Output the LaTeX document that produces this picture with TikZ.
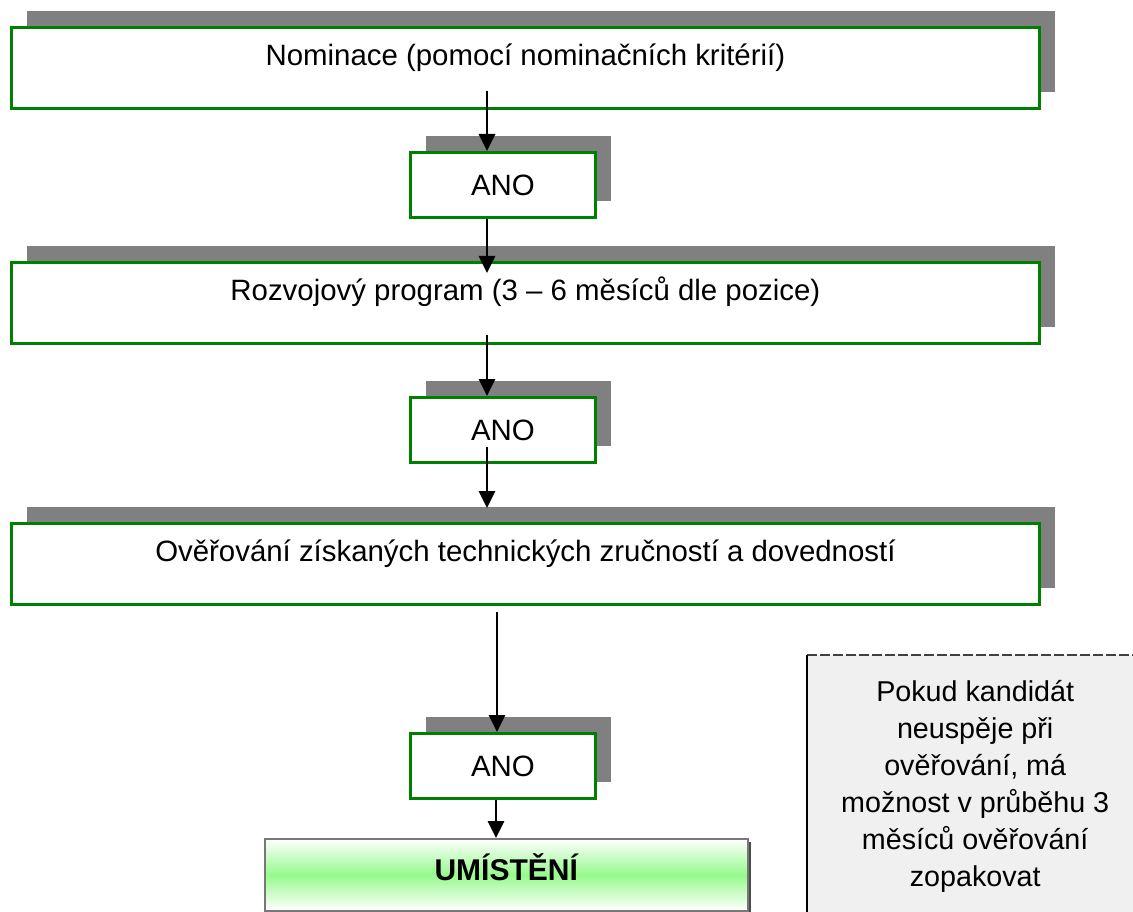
\documentclass[tikz,border=0pt]{standalone}
\usepackage{fontspec}
\setmainfont{Liberation Sans}
\usetikzlibrary{arrows.meta,shadows}
\definecolor{boxgreen}{RGB}{0,128,0}
\definecolor{shadegray}{RGB}{128,128,128}
\definecolor{notefill}{RGB}{240,240,240}
\definecolor{umgreen}{RGB}{150,250,140}
\definecolor{umborder}{RGB}{120,120,120}
\tikzset{
  stepbox/.style={draw=boxgreen, line width=2.8pt, fill=white, anchor=north west, inner sep=0pt,
    font=\fontsize{29.4}{35}\selectfont,
    drop shadow={shadow xshift=16pt, shadow yshift=16pt, fill=shadegray, opacity=1}},
  widebox/.style={stepbox, minimum width=1028pt, minimum height=81pt, text height=21pt, text depth=25pt},
  anobox/.style={stepbox, minimum width=185pt, minimum height=65pt, text height=21pt, text depth=0pt},
  arr/.style={line width=2.8pt, -{Triangle[length=17pt,width=16pt]}},
  notebox/.style={fill=notefill, anchor=north west, minimum width=336pt, minimum height=262pt,
    inner sep=0pt, align=center, font=\fontsize{28.7}{37}\selectfont},
  umbox/.style={draw=umborder, line width=1.5pt, anchor=north west, minimum width=483pt,
    minimum height=72pt, inner sep=0pt, top color=white, bottom color=white, middle color=umgreen,
    text height=22pt, text depth=10pt, font=\bfseries\fontsize{30}{36}\selectfont,
    drop shadow={shadow xshift=3pt, shadow yshift=-3pt, fill=black!70, opacity=1}},
}
\begin{document}
\begin{tikzpicture}[x=1pt, y=-1pt]
\useasboundingbox (0,0) rectangle (1133,912);

\node[widebox] (n1) at (10,26) {Nominace (pomocí nominačních kritérií)};
\node[anobox] (ano1) at (409,151) {ANO};
\node[widebox] (n2) at (10,261) {Rozvojový program (3 – 6 měsíců dle pozice)};
\node[anobox] (ano2) at (409,396) {ANO};
\node[widebox] (n3) at (10,522) {Ověřování získaných technických zručností a dovedností};
\node[anobox] (ano3) at (409,732) {ANO};
\node[umbox] (um) at (264,838) {UMÍSTĚNÍ};

\node[notebox] (note) at (807,655) {Pokud kandidát\\neuspěje při\\ověřování, má\\možnost v průběhu 3\\měsíců ověřování\\zopakovat};
\draw[black!75, line width=1.2pt, dash pattern=on 10pt off 3pt] (note.north west) -- (note.north east);
\draw[line width=1.5pt] (note.north west) -- (note.south west);

\coordinate (s1) at (487,91);
\coordinate (s3) at (487,335);
\coordinate (s4) at (487,447);
\coordinate (e4) at (487,508);
\coordinate (e2) at (487,273);
\coordinate (s5) at (497,612);
\coordinate (x6) at (496,800);

\draw[arr] (s1) -- (s1 |- ano1.north);
\draw[arr] (s1 |- ano1.south) -- (e2);
\draw[arr] (s3) -- (s3 |- ano2.north);
\draw[arr] (s4) -- (e4);
\draw[arr] (s5) -- (s5 |- ano3.north);
\draw[arr] (x6 |- ano3.south) -- (x6 |- um.north);
\end{tikzpicture}
\end{document}
